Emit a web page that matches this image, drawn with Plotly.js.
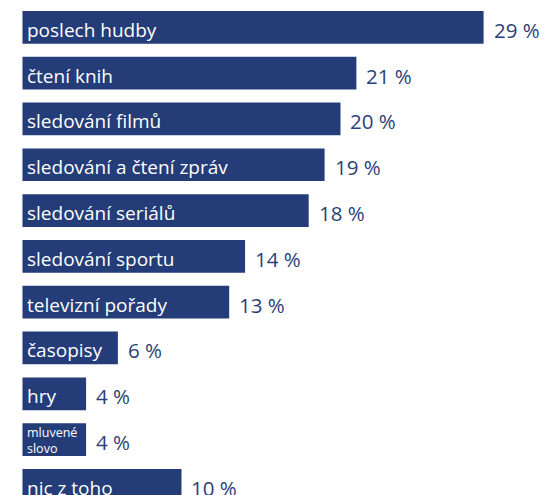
<!DOCTYPE html>
<html>
<head>
<meta charset="utf-8">
<script src="https://cdn.plot.ly/plotly-3.0.1.min.js"></script>
<style>
  html, body { margin: 0; padding: 0; background: #ffffff; }
  #chart { width: 548px; height: 495px; }
</style>
</head>
<body>
<div id="chart"></div>
<script>
const categories = [
  "poslech hudby",
  "čtení knih",
  "sledování filmů",
  "sledování a čtení zpráv",
  "sledování seriálů",
  "sledování sportu",
  "televizní pořady",
  "časopisy",
  "hry",
  "mluvené<br>slovo",
  "nic z toho"
];
const values = [29, 21, 20, 19, 18, 14, 13, 6, 4, 4, 10];
const valueLabels = values.map(v => v + " %");

const barColor = "#243c78";
const valueColor = "#2b3f7b";
const fontFamily = "'Open Sans', 'Noto Sans', sans-serif";

const trace = {
  type: "bar",
  orientation: "h",
  x: values,
  y: categories,
  marker: { color: barColor, line: { width: 0 } },
  hoverinfo: "none"
};

const annotations = [];
categories.forEach((c, i) => {
  const small = c.indexOf("<br>") >= 0;
  annotations.push({
    x: 0, y: c, xref: "x", yref: "y",
    text: c, showarrow: false,
    xanchor: "left", yanchor: "middle", align: "left",
    xshift: 4.5, yshift: small ? -0.5 : -2.5,
    borderpad: 0, borderwidth: 0,
    font: { family: fontFamily, size: small ? 12.5 : 19, color: "#ffffff" }
  });
  annotations.push({
    x: values[i], y: c, xref: "x", yref: "y",
    text: valueLabels[i], showarrow: false,
    xanchor: "left", yanchor: "middle",
    xshift: 10, yshift: -2.5,
    borderpad: 0, borderwidth: 0,
    font: { family: fontFamily, size: 20.5, color: valueColor }
  });
});

const layout = {
  width: 548,
  height: 495,
  margin: { l: 22, r: 0, t: 0, b: 0, pad: 0 },
  paper_bgcolor: "#ffffff",
  plot_bgcolor: "#ffffff",
  showlegend: false,
  bargap: 0.286,
  xaxis: {
    range: [-0.03, 33.05],
    showgrid: false, zeroline: false, showticklabels: false, showline: false, ticks: ""
  },
  yaxis: {
    type: "category",
    range: [10.21, -0.597],
    showgrid: false, zeroline: false, showticklabels: false, showline: false, ticks: ""
  },
  annotations: annotations
};

Plotly.newPlot("chart", [trace], layout, { displayModeBar: false, staticPlot: true });
</script>
</body>
</html>
